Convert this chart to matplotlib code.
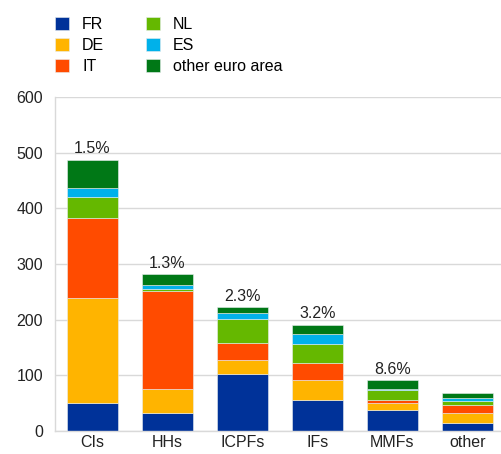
import matplotlib.pyplot as plt
import numpy as np

plt.rcParams['font.family'] = ['Liberation Sans', 'DejaVu Sans']

categories = ['CIs', 'HHs', 'ICPFs', 'IFs', 'MMFs', 'other']
fr = [50, 32, 103, 55, 37, 14]
de = [189, 44, 25, 37, 14, 18]
it = [144, 175, 30, 31, 4, 15]
nl = [38, 4, 43, 34, 19, 6]
es = [15, 7, 11, 17, 1, 6]
other_ea = [51, 20, 10, 17, 16, 10]
shares = ['1.5%', '1.3%', '2.3%', '3.2%', '8.6%', '']

series = [('FR', fr, '#003299'), ('DE', de, '#FFB400'), ('IT', it, '#FF4B00'),
          ('NL', nl, '#65B800'), ('ES', es, '#00B1EA'), ('other euro area', other_ea, '#007816')]

fs = 11.5

fig = plt.figure(figsize=(5.02, 4.54), dpi=100)
ax = fig.add_axes([55/502, 23/454, 450/502, 334/454])

x = np.arange(len(categories))
bottom = np.zeros(len(categories))
handles = []
for name, vals, col in series:
    b = ax.bar(x, vals, 0.667, bottom=bottom, color=col, label=name,
               edgecolor='#e8eef0', linewidth=0.4)
    handles.append(b)
    bottom += np.array(vals)

for xi, tot, s in zip(x, bottom, shares):
    if s:
        ax.annotate(s, (xi, tot), xytext=(0, 2.5), textcoords='offset points',
                    ha='center', va='bottom', fontsize=fs, color='#222222')

ax.set_xlim(-0.5, len(categories) - 0.5)
ax.set_ylim(0, 600)
ax.set_yticks(range(0, 601, 100))
ax.set_xticks(x)
ax.set_xticklabels(categories)
ax.tick_params(length=0, labelsize=fs, colors='#222222')
ax.tick_params(axis='y', pad=8.5)
ax.tick_params(axis='x', pad=3)
ax.grid(axis='y', color='#d9d9d9', linewidth=1)
ax.set_axisbelow(True)
for sp in ['top', 'right']:
    ax.spines[sp].set_visible(False)
for sp in ['left', 'bottom']:
    ax.spines[sp].set_color('#d9d9d9')
    ax.spines[sp].set_linewidth(1)

fig.legend(handles, [s[0] for s in series], ncol=2, loc='upper left',
           bbox_to_anchor=(41/502, 1 - 3/454), frameon=False, fontsize=fs,
           handlelength=0.875, handleheight=0.875, handletextpad=0.8,
           columnspacing=2.6, labelspacing=0.35)

fig.savefig('out.png', dpi=100)
